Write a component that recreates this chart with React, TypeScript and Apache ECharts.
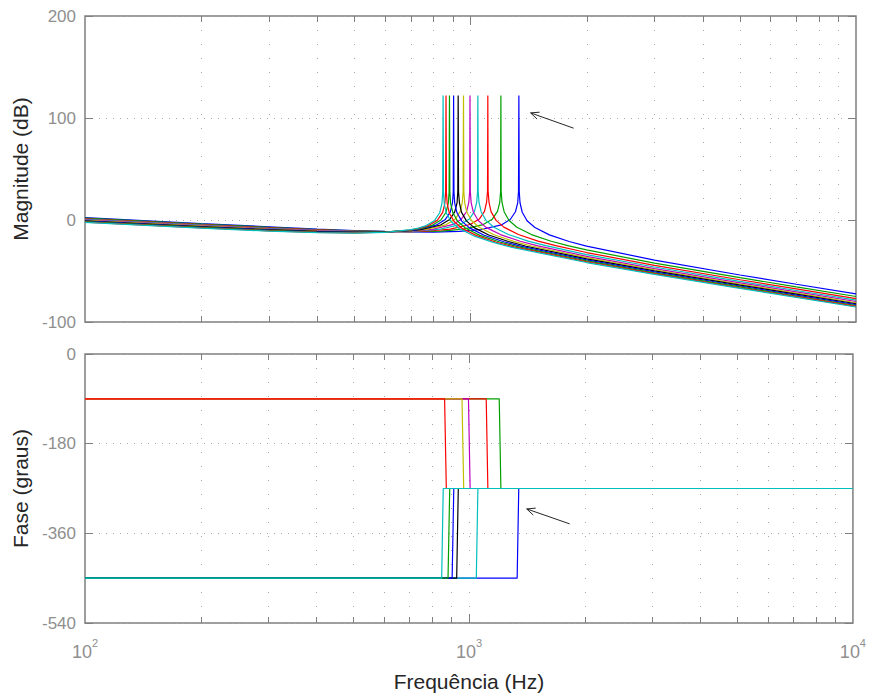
import React, { useEffect, useRef } from "react";
import * as echarts from "echarts";

const FONT = '"Liberation Sans", Arial, Helvetica, sans-serif';
const AXIS_COLOR = "#7f7f7f";
const TICK_TEXT = "#8f8f8f";
const NAME_TEXT = "#262626";
const GRID_DOTS = "#a8a8a8";

// Magnitude responses, [frequency (Hz), magnitude (dB)], one list per case
const magC1 = [[100, 2.4], [200, -3.5], [300, -6.7], [400, -8.9], [500, -10.3], [600, -11.2], [700, -11.7], [801, -11.8], [935, -11.2], [1068, -9.3], [1202, -4.8], [1268, 0.5], [1308, 8.1], [1326, 17.0], [1332, 27.9], [1335, 122], [1338, 27.8], [1344, 16.9], [1362, 7.6], [1402, -0.8], [1469, -7.4], [1602, -14.6], [1802, -21.1], [2000, -25.6], [3000, -39.3], [5000, -53.9], [7000, -63.0], [10000, -72.5]];
const magC2 = [[100, 1.8], [200, -4.0], [300, -7.2], [400, -9.3], [500, -10.6], [600, -11.3], [700, -11.5], [839, -10.9], [959, -9.0], [1079, -4.5], [1139, 0.8], [1175, 8.4], [1191, 17.3], [1197, 28.2], [1199, 122], [1201, 28.1], [1207, 17.2], [1223, 7.9], [1259, -0.5], [1319, -7.1], [1439, -14.3], [1619, -20.8], [1799, -25.3], [2000, -29.3], [3000, -42.2], [5000, -56.5], [7000, -65.6], [10000, -75.0]];
const magC3 = [[100, 1.2], [200, -4.6], [300, -7.7], [400, -9.7], [500, -10.9], [600, -11.4], [700, -11.3], [776, -10.8], [887, -8.9], [998, -4.4], [1054, 0.9], [1087, 8.5], [1101, 17.4], [1107, 28.2], [1109, 122], [1111, 28.2], [1117, 17.2], [1131, 8.0], [1165, -0.4], [1220, -7.0], [1331, -14.2], [1497, -20.7], [1664, -25.2], [2000, -31.9], [3000, -44.4], [5000, -58.6], [7000, -67.5], [10000, -77.0]];
const magC4 = [[100, 0.7], [200, -5.1], [300, -8.2], [400, -10.1], [500, -11.1], [600, -11.5], [700, -11.1], [732, -10.8], [836, -9.0], [941, -4.4], [993, 0.9], [1024, 8.5], [1038, 17.4], [1043, 28.2], [1045, 122], [1047, 28.2], [1052, 17.2], [1066, 7.9], [1097, -0.4], [1150, -7.1], [1254, -14.2], [1411, -20.7], [1568, -25.2], [2000, -33.9], [3000, -46.1], [5000, -60.2], [7000, -69.1], [10000, -78.5]];
const magC5 = [[100, 0.2], [200, -5.6], [300, -8.6], [400, -10.4], [500, -11.4], [600, -11.6], [700, -10.9], [798, -9.1], [897, -4.6], [947, 0.8], [977, 8.3], [990, 17.3], [995, 28.1], [997, 122], [999, 28.0], [1004, 17.1], [1017, 7.8], [1047, -0.5], [1097, -7.2], [1196, -14.3], [1346, -20.8], [1496, -25.4], [2000, -35.6], [3000, -47.6], [5000, -61.6], [7000, -70.5], [10000, -79.9]];
const magC6 = [[100, -0.3], [200, -6.0], [300, -9.1], [400, -10.8], [500, -11.6], [600, -11.7], [700, -10.7], [767, -9.2], [863, -4.7], [911, 0.6], [940, 8.2], [952, 17.1], [957, 27.9], [959, 122], [961, 27.9], [966, 16.9], [978, 7.7], [1007, -0.7], [1055, -7.3], [1151, -14.5], [1295, -21.0], [1439, -25.5], [2000, -36.9], [3000, -48.8], [5000, -62.8], [7000, -71.7], [10000, -81.1]];
const magC7 = [[100, -0.8], [200, -6.5], [300, -9.5], [400, -11.1], [500, -11.9], [600, -11.7], [700, -10.5], [743, -9.4], [836, -4.9], [883, 0.4], [910, 8.0], [923, 16.9], [927, 27.8], [929, 122], [931, 27.7], [936, 16.8], [948, 7.5], [976, -0.9], [1022, -7.5], [1115, -14.7], [1254, -21.1], [1394, -25.7], [2000, -38.1], [3000, -49.9], [5000, -63.8], [7000, -72.7], [10000, -82.1]];
const magC8 = [[100, -1.2], [200, -6.9], [300, -9.8], [400, -11.5], [500, -12.1], [600, -11.8], [700, -10.3], [723, -9.6], [814, -5.1], [859, 0.2], [886, 7.8], [898, 16.7], [902, 27.6], [904, 122], [906, 27.5], [910, 16.6], [922, 7.3], [949, -1.1], [994, -7.7], [1085, -14.9], [1220, -21.3], [1356, -25.9], [2000, -39.1], [3000, -50.9], [5000, -64.7], [7000, -73.6], [10000, -83.0]];
const magC9 = [[100, -1.6], [200, -7.3], [300, -10.2], [400, -11.8], [500, -12.3], [600, -11.9], [700, -10.0], [745, -8.3], [794, -5.3], [838, 0.0], [864, 7.6], [876, 16.5], [880, 27.4], [882, 122], [884, 27.3], [888, 16.4], [900, 7.1], [926, -1.3], [970, -7.9], [1058, -15.1], [1191, -21.6], [1323, -26.1], [2000, -40.1], [3000, -51.8], [5000, -65.6], [7000, -74.5], [10000, -83.8]];
const magC10 = [[100, -2.0], [200, -7.7], [300, -10.6], [400, -12.1], [500, -12.6], [600, -12.0], [700, -9.8], [740, -8.0], [778, -5.5], [821, -0.2], [847, 7.4], [858, 16.3], [862, 27.1], [864, 122], [866, 27.1], [870, 16.1], [881, 6.8], [907, -1.5], [950, -8.1], [1037, -15.3], [1166, -21.8], [1296, -26.3], [2000, -40.9], [3000, -52.5], [5000, -66.4], [7000, -75.2], [10000, -84.6]];
const magC11 = [[100, -2.4], [200, -8.0], [300, -10.9], [400, -12.4], [500, -12.8], [600, -12.1], [700, -9.5], [732, -8.0], [764, -5.8], [807, -0.4], [832, 7.1], [843, 16.1], [847, 26.9], [849, 122], [851, 26.8], [855, 15.9], [866, 6.6], [892, -1.7], [934, -8.4], [1019, -15.5], [1146, -22.0], [1274, -26.6], [2000, -41.7], [3000, -53.3], [5000, -67.0], [7000, -75.9], [10000, -85.3]];

// Phase responses, [frequency (Hz), phase (degrees)]
const phaseC1 = [[100, -450], [1335, -450], [1348, -270], [10000, -270]];
const phaseC2 = [[100, -90], [1199, -90], [1211, -270], [10000, -270]];
const phaseC3 = [[100, -90], [1109, -90], [1120, -270], [10000, -270]];
const phaseC4 = [[100, -450], [1045, -450], [1055, -270], [10000, -270]];
const phaseC5 = [[100, -90], [997, -90], [1007, -270], [10000, -270]];
const phaseC6 = [[100, -90], [959, -90], [969, -270], [10000, -270]];
const phaseC7 = [[100, -450], [929, -450], [938, -270], [10000, -270]];
const phaseC8 = [[100, -450], [904, -450], [913, -270], [10000, -270]];
const phaseC9 = [[100, -450], [882, -450], [891, -270], [10000, -270]];
const phaseC10 = [[100, -90], [864, -90], [873, -270], [10000, -270]];
const phaseC11 = [[100, -450], [849, -450], [857, -270], [10000, -270]];

const magnitudes = [magC1, magC2, magC3, magC4, magC5, magC6, magC7, magC8, magC9, magC10, magC11];
const phases = [phaseC1, phaseC2, phaseC3, phaseC4, phaseC5, phaseC6, phaseC7, phaseC8, phaseC9, phaseC10, phaseC11];

// Classic colour order: b, g, r, c, m, y, k, then repeats
const curveColors = ["#0000ff", "#00a000", "#ff0000", "#00bfbf", "#bf00bf", "#bfbf00", "#000000", "#0000ff", "#00a000", "#ff0000", "#00bfbf"];

// Frequency range and axis ticks
const freqMin = 100;
const freqMax = 10000;
const logGridFreqs = [200, 300, 400, 500, 600, 700, 800, 900, 1000, 2000, 3000, 4000, 5000, 6000, 7000, 8000, 9000];
const decadeFreqs = [1000];
const magRange = [-100, 200];
const magStep = 100;
const phaseRange = [-540, 0];
const phaseStep = 180;

// Annotation arrows: [tail Hz, tail value, head Hz, head value]
const magArrow = [1851, 90, 1432, 105];
const phaseArrow = [1829, -341, 1414, -311];

function frameSeries(axisIndexX: number, axisIndexY: number) {
  return {
    type: "custom",
    xAxisIndex: axisIndexX,
    yAxisIndex: axisIndexY,
    silent: true,
    z: 1,
    clip: false,
    data: logGridFreqs.map((f) => [f]),
    encode: { x: 0 },
    renderItem: (params: any, api: any) => {
      const cs = params.coordSys;
      const f = api.value(0);
      const x = Math.round(api.coord([f, 0])[0]) + 0.5;
      const len = decadeFreqs.includes(f) ? 9 : 6;
      const top = cs.y;
      const bottom = cs.y + cs.height;
      return {
        type: "group",
        children: [
          {
            type: "line",
            shape: { x1: x, y1: top, x2: x, y2: bottom },
            style: { stroke: GRID_DOTS, lineWidth: 1, lineDash: [1, 13] },
          },
          {
            type: "line",
            shape: { x1: x, y1: bottom, x2: x, y2: bottom - len },
            style: { stroke: AXIS_COLOR, lineWidth: 1 },
          },
          {
            type: "line",
            shape: { x1: x, y1: top, x2: x, y2: top + len },
            style: { stroke: AXIS_COLOR, lineWidth: 1 },
          },
        ],
      };
    },
  };
}

function arrowSeries(axisIndexX: number, axisIndexY: number, arrow: number[]) {
  return {
    type: "custom",
    xAxisIndex: axisIndexX,
    yAxisIndex: axisIndexY,
    silent: true,
    z: 5,
    clip: false,
    data: [arrow],
    encode: { x: [0, 2], y: [1, 3] },
    renderItem: (_params: any, api: any) => {
      const p1 = api.coord([api.value(0), api.value(1)]);
      const p2 = api.coord([api.value(2), api.value(3)]);
      const ang = Math.atan2(p1[1] - p2[1], p1[0] - p2[0]);
      const hl = 9;
      const spread = 0.42;
      const a = [p2[0] + hl * Math.cos(ang + spread), p2[1] + hl * Math.sin(ang + spread)];
      const b = [p2[0] + hl * Math.cos(ang - spread), p2[1] + hl * Math.sin(ang - spread)];
      return {
        type: "group",
        children: [
          { type: "line", shape: { x1: p1[0], y1: p1[1], x2: p2[0], y2: p2[1] }, style: { stroke: "#262626", lineWidth: 1 } },
          { type: "polyline", shape: { points: [a, p2, b] }, style: { stroke: "#262626", lineWidth: 1, fill: null } },
        ],
      };
    },
  };
}

function yAxisPair(gridIndex: number, range: number[], step: number, name: string) {
  const common = {
    gridIndex,
    type: "value",
    min: range[0],
    max: range[1],
    interval: step,
    axisLine: { show: false },
    axisTick: { show: true, inside: true, length: 8, lineStyle: { color: AXIS_COLOR, width: 1 } },
  };
  return [
    {
      ...common,
      position: "left",
      axisLabel: { color: TICK_TEXT, fontSize: 17, fontFamily: FONT, margin: 9 },
      splitLine: { show: true, lineStyle: { color: GRID_DOTS, width: 1, type: [1, 6] } },
      name,
      nameLocation: "middle",
      nameGap: 50,
      nameRotate: 90,
      nameTextStyle: { color: NAME_TEXT, fontSize: 21, fontFamily: FONT },
    },
    {
      ...common,
      position: "right",
      axisLabel: { show: false },
      splitLine: { show: false },
    },
  ];
}

export default function App() {
  const ref = useRef<HTMLDivElement>(null);

  useEffect(() => {
    if (!ref.current) return;
    const chart = echarts.init(ref.current, null, { renderer: "svg" });

    const xCommon = {
      type: "log",
      logBase: 10,
      min: freqMin,
      max: freqMax,
      axisLine: { show: false },
      axisTick: { show: false },
      splitLine: { show: false },
    };

    const magSeries = magnitudes.map((d, i) => ({
      type: "line",
      name: `mag${i + 1}`,
      xAxisIndex: 0,
      yAxisIndex: 0,
      data: d,
      symbol: "none",
      showSymbol: false,
      silent: true,
      z: 2,
      lineStyle: { color: curveColors[i], width: 1.2 },
      itemStyle: { color: curveColors[i] },
    }));

    const phaseSeries = phases.map((d, i) => ({
      type: "line",
      name: `phase${i + 1}`,
      xAxisIndex: 1,
      yAxisIndex: 2,
      data: d,
      symbol: "none",
      showSymbol: false,
      silent: true,
      z: 2,
      lineStyle: { color: curveColors[i], width: 1.2 },
      itemStyle: { color: curveColors[i] },
    }));

    chart.setOption({
      animation: false,
      backgroundColor: "#ffffff",
      grid: [
        { left: 85, top: 16, width: 771, height: 306, show: true, borderColor: AXIS_COLOR, borderWidth: 1.5, backgroundColor: "transparent" },
        { left: 85, top: 354, width: 771, height: 269, show: true, borderColor: AXIS_COLOR, borderWidth: 1.5, backgroundColor: "transparent" },
      ],
      xAxis: [
        { ...xCommon, gridIndex: 0, axisLabel: { show: false } },
        {
          ...xCommon,
          gridIndex: 1,
          axisLabel: {
            show: true,
            margin: 14,
            showMinLabel: true,
            showMaxLabel: true,
            formatter: (v: number) => `{b|10}{s|${Math.round(Math.log10(v))}}`,
            rich: {
              b: { fontSize: 18, color: TICK_TEXT, fontFamily: FONT, lineHeight: 24, verticalAlign: "bottom" },
              s: { fontSize: 11, color: TICK_TEXT, fontFamily: FONT, lineHeight: 12, verticalAlign: "top" },
            },
          },
          name: "Frequência (Hz)",
          nameLocation: "middle",
          nameGap: 48,
          nameTextStyle: { color: NAME_TEXT, fontSize: 21, fontFamily: FONT },
        },
      ],
      yAxis: [
        ...yAxisPair(0, magRange, magStep, "Magnitude (dB)"),
        ...yAxisPair(1, phaseRange, phaseStep, "Fase (graus)"),
      ],
      series: [
        frameSeries(0, 0),
        frameSeries(1, 2),
        ...magSeries,
        ...phaseSeries,
        arrowSeries(0, 0, magArrow),
        arrowSeries(1, 2, phaseArrow),
      ],
    });

    return () => chart.dispose();
  }, []);

  return (
    <div
      ref={ref}
      style={{ position: "fixed", left: 0, top: 0, width: 869, height: 697, background: "#fff" }}
    />
  );
}
